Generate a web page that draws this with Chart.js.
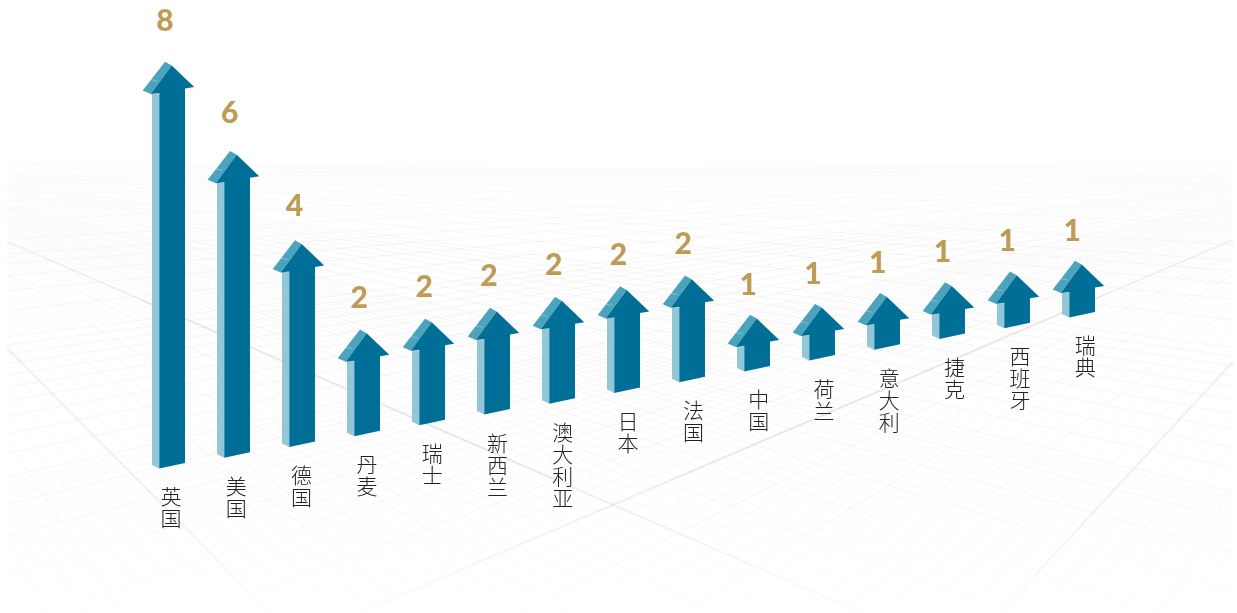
<!DOCTYPE html>
<html lang="zh">
<head>
<meta charset="utf-8">
<title>Arrows</title>
<script src="https://cdn.jsdelivr.net/npm/chart.js@4"></script>
<style>
    html, body { margin: 0; padding: 0; background: #fff; }
    canvas { display: block; }
</style>
</head>
<body>
<canvas id="arrowChart" width="1237" height="613"></canvas>
<script>
const countries = ['英国', '美国', '德国', '丹麦', '瑞士', '新西兰', '澳大利亚', '日本', '法国', '中国', '荷兰', '意大利', '捷克', '西班牙', '瑞典'];
const counts = [8, 6, 4, 2, 2, 2, 2, 2, 2, 1, 1, 1, 1, 1, 1];

// fila inclinada: cada categoria sobe um pouco em relação à primeira
const TILT = 0.166;
const FRONT = '#006f98';
const SIDE = '#93c7d7';
const TOP = '#4ba3bd';

// ===========================================
// FUNDO: piso em perspectiva
// ===========================================

// linhas saem do ponto de fuga e caem em y=613 com passo constante;
// perto do horizonte vai pulando linhas para não virar uma mancha cinza
function floorLine(ctx, vx, vy, px, alpha, width) {
    ctx.strokeStyle = `rgba(0,0,0,${alpha})`;
    ctx.lineWidth = width;
    ctx.beginPath();
    ctx.moveTo(vx, vy);
    ctx.lineTo(px, 613);
    ctx.stroke();
}

function floorFamily(ctx, vx, vy, anchor, step, dir) {
    for (let k = -48; k < 1100; k++) {
        const skip = k <= 40 ? 1 : (k <= 80 ? 4 : (k <= 160 ? 16 : 64));
        if (k % skip !== 0) continue;
        const heavy = k === 0 || k === 16;
        const medium = k % 4 === 0;
        floorLine(ctx, vx, vy, anchor + dir * k * step, heavy ? 0.06 : (medium ? 0.04 : 0.024), heavy ? 2 : 1);
    }
}

const floorPlugin = {
    id: 'floor',
    beforeDatasetsDraw(chart) {
        const ctx = chart.ctx;
        ctx.save();
        ctx.beginPath();
        ctx.rect(7, 160, 1226, 453);
        ctx.clip();
        floorFamily(ctx, -180, 160, 270, 37, 1);
        floorFamily(ctx, 1420, 160, 1000, 40, -1);
        let fade = ctx.createLinearGradient(0, 160, 0, 240);
        fade.addColorStop(0, 'rgba(255,255,255,0.9)');
        fade.addColorStop(1, 'rgba(255,255,255,0.2)');
        ctx.fillStyle = fade;
        ctx.fillRect(7, 160, 1226, 80);
        fade = ctx.createLinearGradient(0, 500, 0, 613);
        fade.addColorStop(0, 'rgba(255,255,255,0)');
        fade.addColorStop(1, 'rgba(255,255,255,0.8)');
        ctx.fillStyle = fade;
        ctx.fillRect(7, 500, 1226, 113);
        ctx.restore();
    },
    afterDatasetsDraw(chart) {
        // as linhas fortes transparecem um pouco por cima das setas
        const ctx = chart.ctx;
        ctx.save();
        ctx.beginPath();
        ctx.rect(140, 190, 960, 290);
        ctx.clip();
        floorLine(ctx, -180, 160, 862, 0.035, 2);
        floorLine(ctx, 1420, 160, 360, 0.035, 2);
        ctx.restore();
    }
};

// ===========================================
// SETAS 3D, RÓTULOS E VALORES
// ===========================================

function poly(ctx, color, points) {
    ctx.fillStyle = color;
    ctx.beginPath();
    points.forEach((p, i) => i ? ctx.lineTo(p[0], p[1]) : ctx.moveTo(p[0], p[1]));
    ctx.closePath();
    ctx.fill();
}

function drawArrow(ctx, x, t, b) {
    poly(ctx, SIDE, [[x - 12.4, t + 28], [x - 19.7, t + 28], [x - 19.7, b - 0.5], [x - 12.4, b + 3]]);
    poly(ctx, TOP, [[x, t], [x - 6.7, t - 3.7], [x - 29, t + 25], [x - 21, t + 28.5]]);
    poly(ctx, FRONT, [[x, t], [x + 22.5, t + 21.5], [x + 13.3, t + 23], [x + 13.3, b - 2.5],
        [x - 12.4, b + 3], [x - 12.4, t + 27.5], [x - 21, t + 28.5]]);
    // risquinho claro na face de cima
    ctx.strokeStyle = 'rgba(255,255,255,0.3)';
    ctx.lineWidth = 1;
    ctx.beginPath();
    ctx.moveTo(x - 22, t + 14);
    ctx.lineTo(x - 14, t + 15.5);
    ctx.stroke();
}

const arrowPlugin = {
    id: 'arrows',
    afterDatasetsDraw(chart) {
        const ctx = chart.ctx;
        const bars = chart.getDatasetMeta(0).data;
        const firstX = bars[0].x;
        ctx.save();
        bars.forEach((bar, i) => {
            const lift = TILT * (bar.x - firstX);
            const top = bar.y - lift;
            const base = bar.base - lift;
            drawArrow(ctx, bar.x, top, base);

            ctx.fillStyle = '#bf9b57';
            ctx.font = '900 30px Lato';
            ctx.textAlign = 'center';
            ctx.textBaseline = 'middle';
            ctx.fillText(String(counts[i]), bar.x - 6.8 - 0.2 * i, top - 32 - 1.5 * counts[i]);

            ctx.fillStyle = '#222';
            ctx.font = '300 21px "Noto Sans CJK SC"';
            Array.from(countries[i]).forEach((ch, k) => {
                ctx.fillText(ch, bar.x + 0.3 * i - 0.7, base + 31 + k * 22);
            });
        });
        ctx.restore();
    }
};

// ===========================================
// GRÁFICO
// ===========================================

new Chart(document.getElementById('arrowChart'), {
    type: 'bar',
    data: {
        labels: countries,
        datasets: [{
            data: counts,
            backgroundColor: 'transparent',
            borderWidth: 0
        }]
    },
    options: {
        responsive: false,
        animation: false,
        layout: { padding: { left: 139.2, right: 122.8, top: 15.5, bottom: 147.5 } },
        plugins: { legend: { display: false }, tooltip: { enabled: false } },
        scales: {
            x: { display: false },
            y: { display: false, min: 0, max: 9 }
        }
    },
    plugins: [floorPlugin, arrowPlugin]
});
</script>
</body>
</html>
